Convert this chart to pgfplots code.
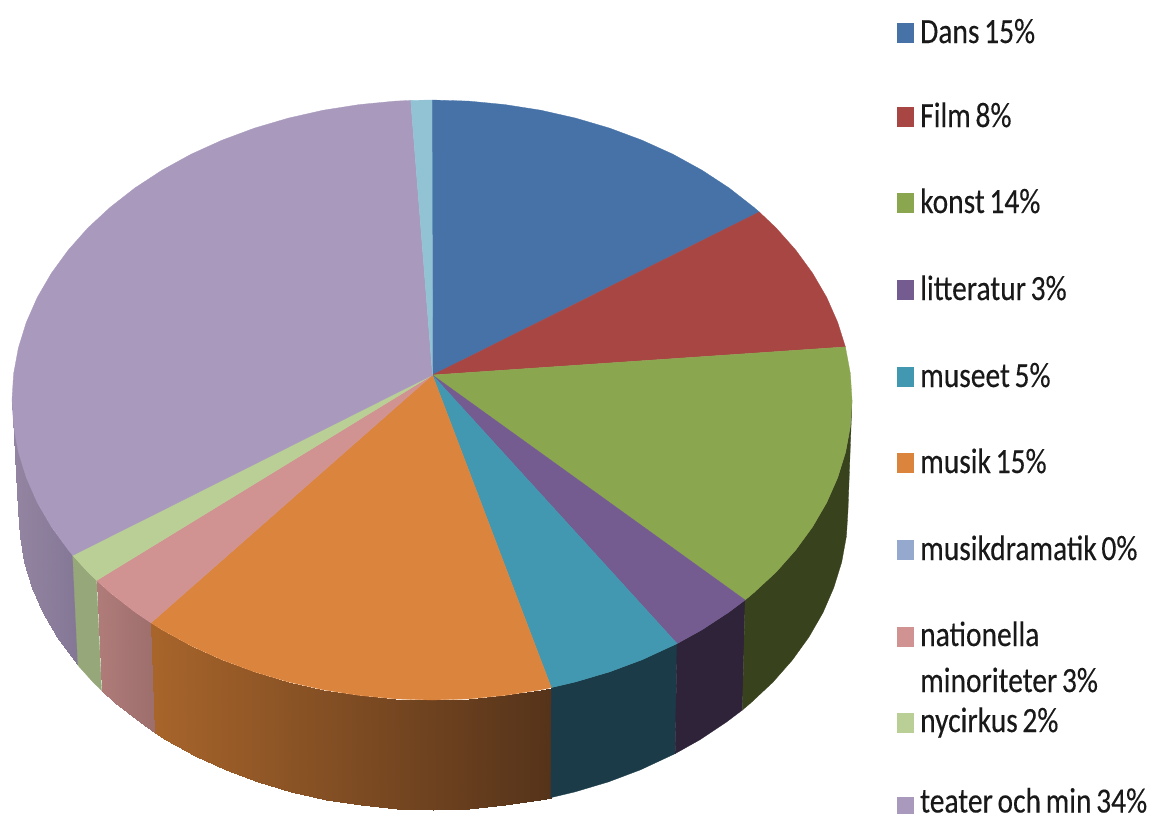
\documentclass[border=0pt]{standalone}
\usepackage{graphicx}
\usepackage{fontspec}
\setmainfont{Carlito}
\newfontfamily\lf{Carlito}[FakeBold=0.3,WordSpace=0.7]
\usepackage{pgfplots}
\pgfplotsset{compat=1.18}
\definecolor{cDans}{HTML}{4672A8}
\definecolor{cFilm}{HTML}{A84644}
\definecolor{cKonst}{HTML}{8AA64F}
\definecolor{cLitt}{HTML}{745B90}
\definecolor{cMuseet}{HTML}{4198B0}
\definecolor{cMusik}{HTML}{DB843D}
\definecolor{cDram}{HTML}{95A9CF}
\definecolor{cNat}{HTML}{D09392}
\definecolor{cNyc}{HTML}{BACF95}
\definecolor{cTeater}{HTML}{A899BD}
\definecolor{cLight}{HTML}{92C3D5}
\definecolor{wMuseet}{HTML}{1A3B47}
\definecolor{wLitt}{HTML}{2E2339}
\definecolor{wKonst}{HTML}{38421D}
\definecolor{wNyc}{HTML}{96A87A}
\newcommand{\lab}[3]{\node[anchor=base west,inner sep=0pt,text=black!90] at (axis cs:#1,#2) {\scalebox{1}[1.2]{\fontsize{29.5pt}{29.5pt}\lf #3}};}
\pgfplotsset{slice/.style={fill=#1,draw=#1,line width=0.3pt},
 wall/.style={surf,shader=interp,mesh/rows=2,point meta=x,point meta rel=per plot}}
\begin{document}
\begin{tikzpicture}
\useasboundingbox (0,0) rectangle (1154pt,814pt);
\clip (0,0) rectangle (1154pt,814pt);
\begin{axis}[at={(0,0)},anchor=south west,scale only axis,width=1154pt,height=814pt,
  xmin=0,xmax=1154,ymin=0,ymax=814,y dir=reverse,hide axis,clip=false]
% side walls
\addplot[wall,colormap={wa}{rgb255=(148,134,162) rgb255=(132,119,150)}] table[row sep=\\] {
x y\\
72.7 555.4\\ 68.3 550\\ 51.4 526.8\\ 37.3 502.6\\ 26.3 477.6\\ 18.4 452.1\\ 13.6 426.2\\ 12 400\\
78 665.4\\ 73.6 660\\ 56.9 636.8\\ 43 612.6\\ 32.2 587.6\\ 24.3 562.1\\ 19.6 536.2\\ 18 510\\
};
\addplot[slice=wNyc] coordinates {(96.6,580.5)(87.9,572.1)(72.7,555.4)(78,665.4)(93,682.1)(101.6,690.5)} -- cycle;
\addplot[wall,colormap={wb}{rgb255=(176,124,122) rgb255=(156,110,108)}] table[row sep=\\] {
x y\\
151 622.9\\ 135 612.1\\ 110.3 592.8\\ 96.6 580.5\\
155.3 732.9\\ 139.6 722.1\\ 115.1 702.8\\ 101.6 690.5\\
};
\addplot[wall,colormap={wc}{rgb255=(168,101,43) rgb255=(85,51,26)}] table[row sep=\\] {
x y\\
151 622.9\\ 162 629.8\\ 191.1 645.8\\ 222 659.8\\ 254.5 671.9\\ 288.4 681.9\\ 323.3 689.8\\ 359.1 695.4\\ 395.4 698.9\\ 432 700\\ 468.6 698.9\\ 504.9 695.4\\ 540.7 689.8\\ 551.3 687.6\\
155.3 732.9\\ 166.2 739.8\\ 195 755.8\\ 225.5 769.8\\ 257.6 781.9\\ 291.1 791.9\\ 325.6 799.8\\ 361 805.4\\ 396.8 808.9\\ 433 810\\ 469.2 808.9\\ 505 805.4\\ 540.4 799.8\\ 550.9 797.6\\
};
\addplot[slice=wMuseet] coordinates {(551.3,687.6)(575.6,681.9)(609.5,671.9)(642,659.8)(677.1,643.6)(675.2,753.6)(640.5,769.8)(608.4,781.9)(574.9,791.9)(550.9,797.6)} -- cycle;
\addplot[slice=wLitt] coordinates {(677.1,643.6)(702,629.8)(729,612.1)(745.1,600)(742.4,710)(726.4,722.1)(699.8,739.8)(675.2,753.6)} -- cycle;
\addplot[slice=wKonst] coordinates {(745.1,600)(753.7,592.8)(776.1,572.1)(795.7,550)(812.6,526.8)(826.7,502.6)(837.7,477.6)(845.6,452.1)(850.4,426.2)(852,400)(848,510)(846.4,536.2)(841.7,562.1)(833.8,587.6)(823,612.6)(809.1,636.8)(792.4,660)(773,682.1)(750.9,702.8)(742.4,710)} -- cycle;
% top face
\addplot[slice=cDans] coordinates {(432.5,375)(432,100)(468.6,101.1)(504.9,104.6)(540.7,110.2)(575.6,118.1)(609.5,128.1)(642,140.2)(672.9,154.2)(702,170.2)(729,187.9)(753.7,207.2)(759.3,212)} -- cycle;
\addplot[slice=cFilm] coordinates {(432.5,375)(759.3,212)(776.1,227.9)(795.7,250)(812.6,273.2)(826.7,297.4)(837.7,322.4)(845.4,346.9)} -- cycle;
\addplot[slice=cKonst] coordinates {(432.5,375)(845.4,346.9)(850.4,373.8)(852,400)(850.4,426.2)(845.6,452.1)(837.7,477.6)(826.7,502.6)(812.6,526.8)(795.7,550)(776.1,572.1)(753.7,592.8)(745.1,600)} -- cycle;
\addplot[slice=cLitt] coordinates {(432.5,375)(745.1,600)(729,612.1)(702,629.8)(677.1,643.6)} -- cycle;
\addplot[slice=cMuseet] coordinates {(432.5,375)(677.1,643.6)(642,659.8)(609.5,671.9)(575.6,681.9)(551.3,687.6)} -- cycle;
\addplot[slice=cMusik] coordinates {(432.5,375)(551.3,687.6)(540.7,689.8)(504.9,695.4)(468.6,698.9)(432,700)(395.4,698.9)(359.1,695.4)(323.3,689.8)(288.4,681.9)(254.5,671.9)(222,659.8)(191.1,645.8)(162,629.8)(151,622.9)} -- cycle;
\addplot[slice=cNat] coordinates {(432.5,375)(151,622.9)(135,612.1)(110.3,592.8)(96.6,580.5)} -- cycle;
\addplot[slice=cNyc] coordinates {(432.5,375)(96.6,580.5)(87.9,572.1)(72.7,555.4)} -- cycle;
\addplot[slice=cTeater] coordinates {(432.5,375)(72.7,555.4)(68.3,550)(51.4,526.8)(37.3,502.6)(26.3,477.6)(18.4,452.1)(13.6,426.2)(12,400)(13.6,373.8)(18.4,347.9)(26.3,322.4)(37.3,297.4)(51.4,273.2)(68.3,250)(87.9,227.9)(110.3,207.2)(135,187.9)(162,170.2)(191.1,154.2)(222,140.2)(254.5,128.1)(288.4,118.1)(323.3,110.2)(359.1,104.6)(395.4,101.1)(410.7,100.4)} -- cycle;
\addplot[slice=cLight] coordinates {(432.5,375)(410.7,100.4)(432,100)} -- cycle;
% legend keys
\addplot[fill=cDans,draw=none] coordinates {(897,23)(913.5,23)(913.5,43)(897,43)} -- cycle;
\addplot[fill=cFilm,draw=none] coordinates {(897,107)(913.5,107)(913.5,127)(897,127)} -- cycle;
\addplot[fill=cKonst,draw=none] coordinates {(897,193)(913.5,193)(913.5,213)(897,213)} -- cycle;
\addplot[fill=cLitt,draw=none] coordinates {(897,280)(913.5,280)(913.5,300)(897,300)} -- cycle;
\addplot[fill=cMuseet,draw=none] coordinates {(897,367)(913.5,367)(913.5,387)(897,387)} -- cycle;
\addplot[fill=cMusik,draw=none] coordinates {(897,453)(913.5,453)(913.5,473)(897,473)} -- cycle;
\addplot[fill=cDram,draw=none] coordinates {(897,540)(913.5,540)(913.5,560)(897,560)} -- cycle;
\addplot[fill=cNat,draw=none] coordinates {(897,627)(913.5,627)(913.5,647)(897,647)} -- cycle;
\addplot[fill=cNyc,draw=none] coordinates {(897,713)(913.5,713)(913.5,733)(897,733)} -- cycle;
\addplot[fill=cTeater,draw=none] coordinates {(897,797)(913.5,797)(913.5,814)(897,814)} -- cycle;
% legend text
\lab{920}{43}{Dans 15\%}
\lab{920}{127}{Film 8\%}
\lab{920}{213}{konst 14\%}
\lab{920}{300}{litteratur 3\%}
\lab{920}{387}{museet 5\%}
\lab{920}{473}{musik 15\%}
\lab{920}{560}{musikdramatik 0\%}
\lab{920}{646}{nationella}
\lab{920}{692}{minoriteter 3\%}
\lab{920}{732}{nycirkus 2\%}
\lab{920}{812.5}{teater och min 34\%}
\end{axis}
\end{tikzpicture}
\end{document}
